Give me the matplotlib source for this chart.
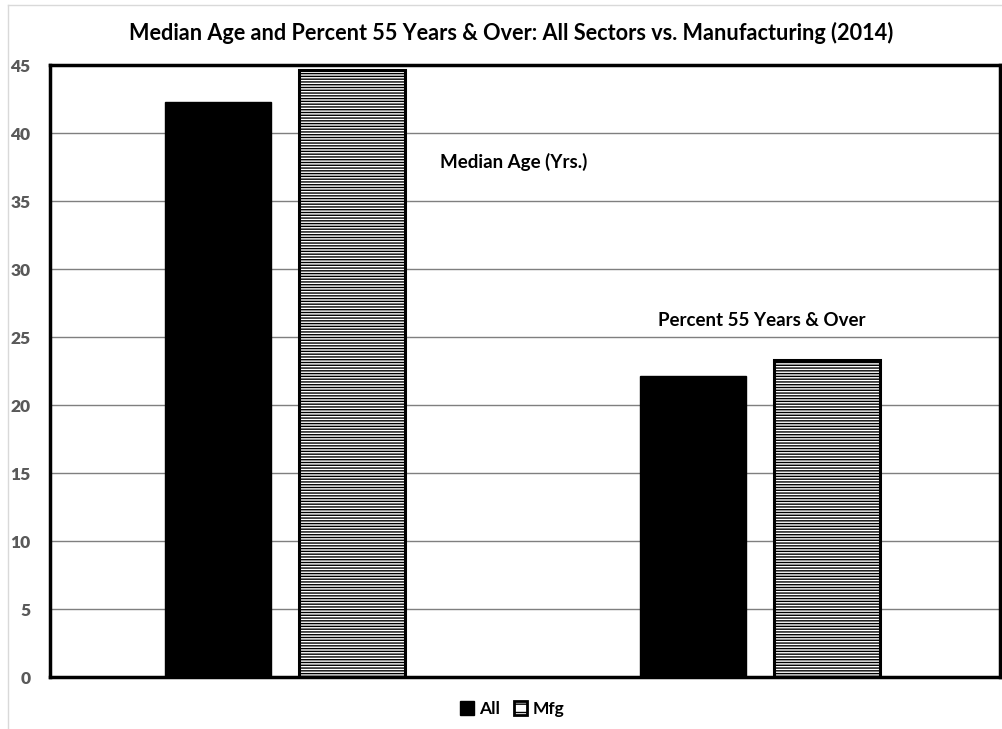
import matplotlib
matplotlib.use("Agg")
import matplotlib.pyplot as plt
import numpy as np
from matplotlib.patches import Patch
from matplotlib.lines import Line2D

plt.rcParams['font.family'] = ['Lato', 'DejaVu Sans']
plt.rcParams['hatch.linewidth'] = 1.0

categories = ["Median Age (Yrs.)", "Percent 55 Years & Over"]
series_names = ["All", "Mfg"]
all_values = [42.3, 22.1]
mfg_values = [44.6, 23.3]
yticks = [0, 5, 10, 15, 20, 25, 30, 35, 40, 45]

fig = plt.figure(figsize=(10.03, 7.29), dpi=100)
ax = fig.add_axes([50/1003, 1-677/729, 950/1003, (677-65)/729])

x = np.arange(len(categories))
w = 0.222
off = 0.141
shift = -0.005
ax.bar(x - off + shift, all_values, w, color='black', edgecolor='black', linewidth=1, zorder=3)
ax.bar(x + off + shift, mfg_values, w, color='white', edgecolor='black', linewidth=2.2,
       hatch='------', zorder=3)

ax.set_xlim(-0.5, 1.5)
ax.set_ylim(0, 45)
ax.set_yticks(yticks)
ax.set_yticklabels([str(t) for t in yticks], fontsize=12.5, fontweight='heavy', color='#595959')
ax.set_xticks([])
ax.tick_params(axis='y', length=0, pad=14)
ax.grid(axis='y', color='#7f7f7f', linewidth=1, zorder=0)
for s in ax.spines.values():
    s.set_linewidth(2.5)
    s.set_color('black')
    s.set_zorder(4)

# category annotations
ax.text(0.321, 37.9, categories[0], fontsize=13.5, fontweight='bold', ha='left', va='center')
ax.text(0.78, 26.25, categories[1], fontsize=13.5, fontweight='bold', ha='left', va='center')

fig.text(511/1003, 1-33/729, "Median Age and Percent 55 Years & Over: All Sectors vs. Manufacturing (2014)",
         fontsize=15.6, fontweight='bold', ha='center', va='center')

handles = [Patch(facecolor='black', edgecolor='black'),
           Patch(facecolor='white', edgecolor='black', linewidth=2, hatch='--')]
leg = fig.legend(handles, series_names, loc='center', bbox_to_anchor=(512/1003, 1-709/729),
                 ncol=2, frameon=False, prop={'weight': 'bold', 'size': 12.5},
                 handlelength=0.8, handleheight=0.8, handletextpad=0.3, columnspacing=0.8)

# light chart border
fig.add_artist(Line2D([8/1003, 8/1003], [0, 1-5/729], color='#d9d9d9', linewidth=1))
fig.add_artist(Line2D([8/1003, 1], [1-5/729, 1-5/729], color='#d9d9d9', linewidth=1))

fig.savefig("out.png", dpi=100)
